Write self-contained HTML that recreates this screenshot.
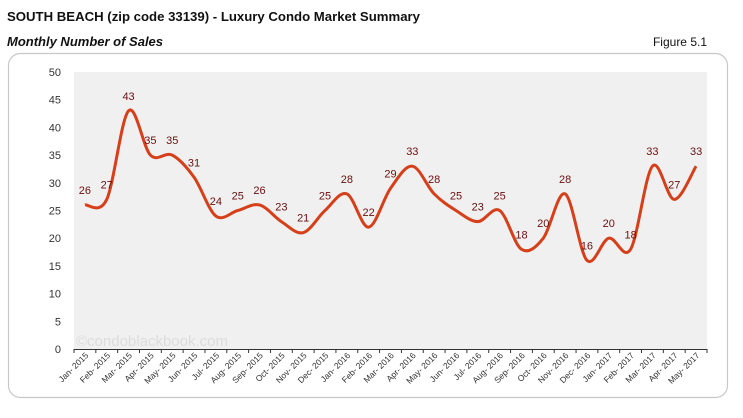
<!DOCTYPE html>
<html><head><meta charset="utf-8"><style>
body{margin:0;width:743px;height:413px;background:#fff;font-family:"Liberation Sans",Arial,sans-serif;overflow:hidden}
</style></head><body>
<svg id="s" width="743" height="413" xmlns="http://www.w3.org/2000/svg" font-family="Liberation Sans, Arial, sans-serif">
<text x="7" y="21" font-size="13.2" font-weight="bold" fill="#111" textLength="413" lengthAdjust="spacingAndGlyphs">SOUTH BEACH (zip code 33139) - Luxury Condo Market Summary</text>
<text x="7" y="46" font-size="13" font-weight="bold" font-style="italic" fill="#111">Monthly Number of Sales</text>
<text x="707" y="46" font-size="12" fill="#111" text-anchor="end">Figure 5.1</text>
<rect x="8.5" y="53.5" width="719" height="344" rx="12" fill="#fff" stroke="#c8c8c8" stroke-width="1.2"/>
<rect x="74" y="72" width="633" height="277" fill="#f0f0f0"/>
<text x="76" y="346" font-size="15" fill="#dcdcdc">©condoblackbook.com</text>
<g id="g"></g>
</svg>
<script>
var d=[26,27,43,35,35,31,24,25,26,23,21,25,28,22,29,33,28,25,23,25,18,20,28,16,20,18,33,27,33];
var m=["Jan","Feb","Mar","Apr","May","Jun","Jul","Aug","Sep","Oct","Nov","Dec"];
var x0=74,w=633/29,y0=349,k=277/50,h='';
function X(i){return x0+w*(i+0.5)}function Y(v){return y0-v*k}
for(var v=0;v<=50;v+=5)h+='<text x="61" y="'+(Y(v)+4)+'" font-size="11" fill="#333" text-anchor="end">'+v+'</text>';
h+='<line x1="74" y1="349.5" x2="707" y2="349.5" stroke="#333"/>';
for(var i=0;i<=29;i++)h+='<line x1="'+(x0+w*i)+'" y1="349" x2="'+(x0+w*i)+'" y2="353" stroke="#333"/>';
for(i=0;i<29;i++){var lab=m[i%12]+"- "+(2015+Math.floor(i/12));var cx=X(i)+4,cy=356;
h+='<text transform="translate('+cx+','+cy+') rotate(-45)" font-size="8.5" fill="#333" text-anchor="end">'+lab+'</text>';}
var p='M'+X(0)+','+Y(d[0]);
for(i=0;i<28;i++){var a=i>0?i-1:i,b=i+2<29?i+2:i+1;
var c1x=X(i)+(X(i+1)-X(a))/6,c1y=Y(d[i])+(Y(d[i+1])-Y(d[a]))/6,c2x=X(i+1)-(X(b)-X(i))/6,c2y=Y(d[i+1])-(Y(d[b])-Y(d[i]))/6;
p+=' C'+c1x+','+c1y+' '+c2x+','+c2y+' '+X(i+1)+','+Y(d[i+1]);}
h+='<path d="'+p+'" fill="none" stroke="#d5401a" stroke-width="3"/>';
for(i=0;i<29;i++)h+='<text x="'+X(i)+'" y="'+(Y(d[i])-11)+'" font-size="11" fill="#6b1010" text-anchor="middle">'+d[i]+'</text>';
document.getElementById('g').innerHTML=h;
</script>
</body></html>
